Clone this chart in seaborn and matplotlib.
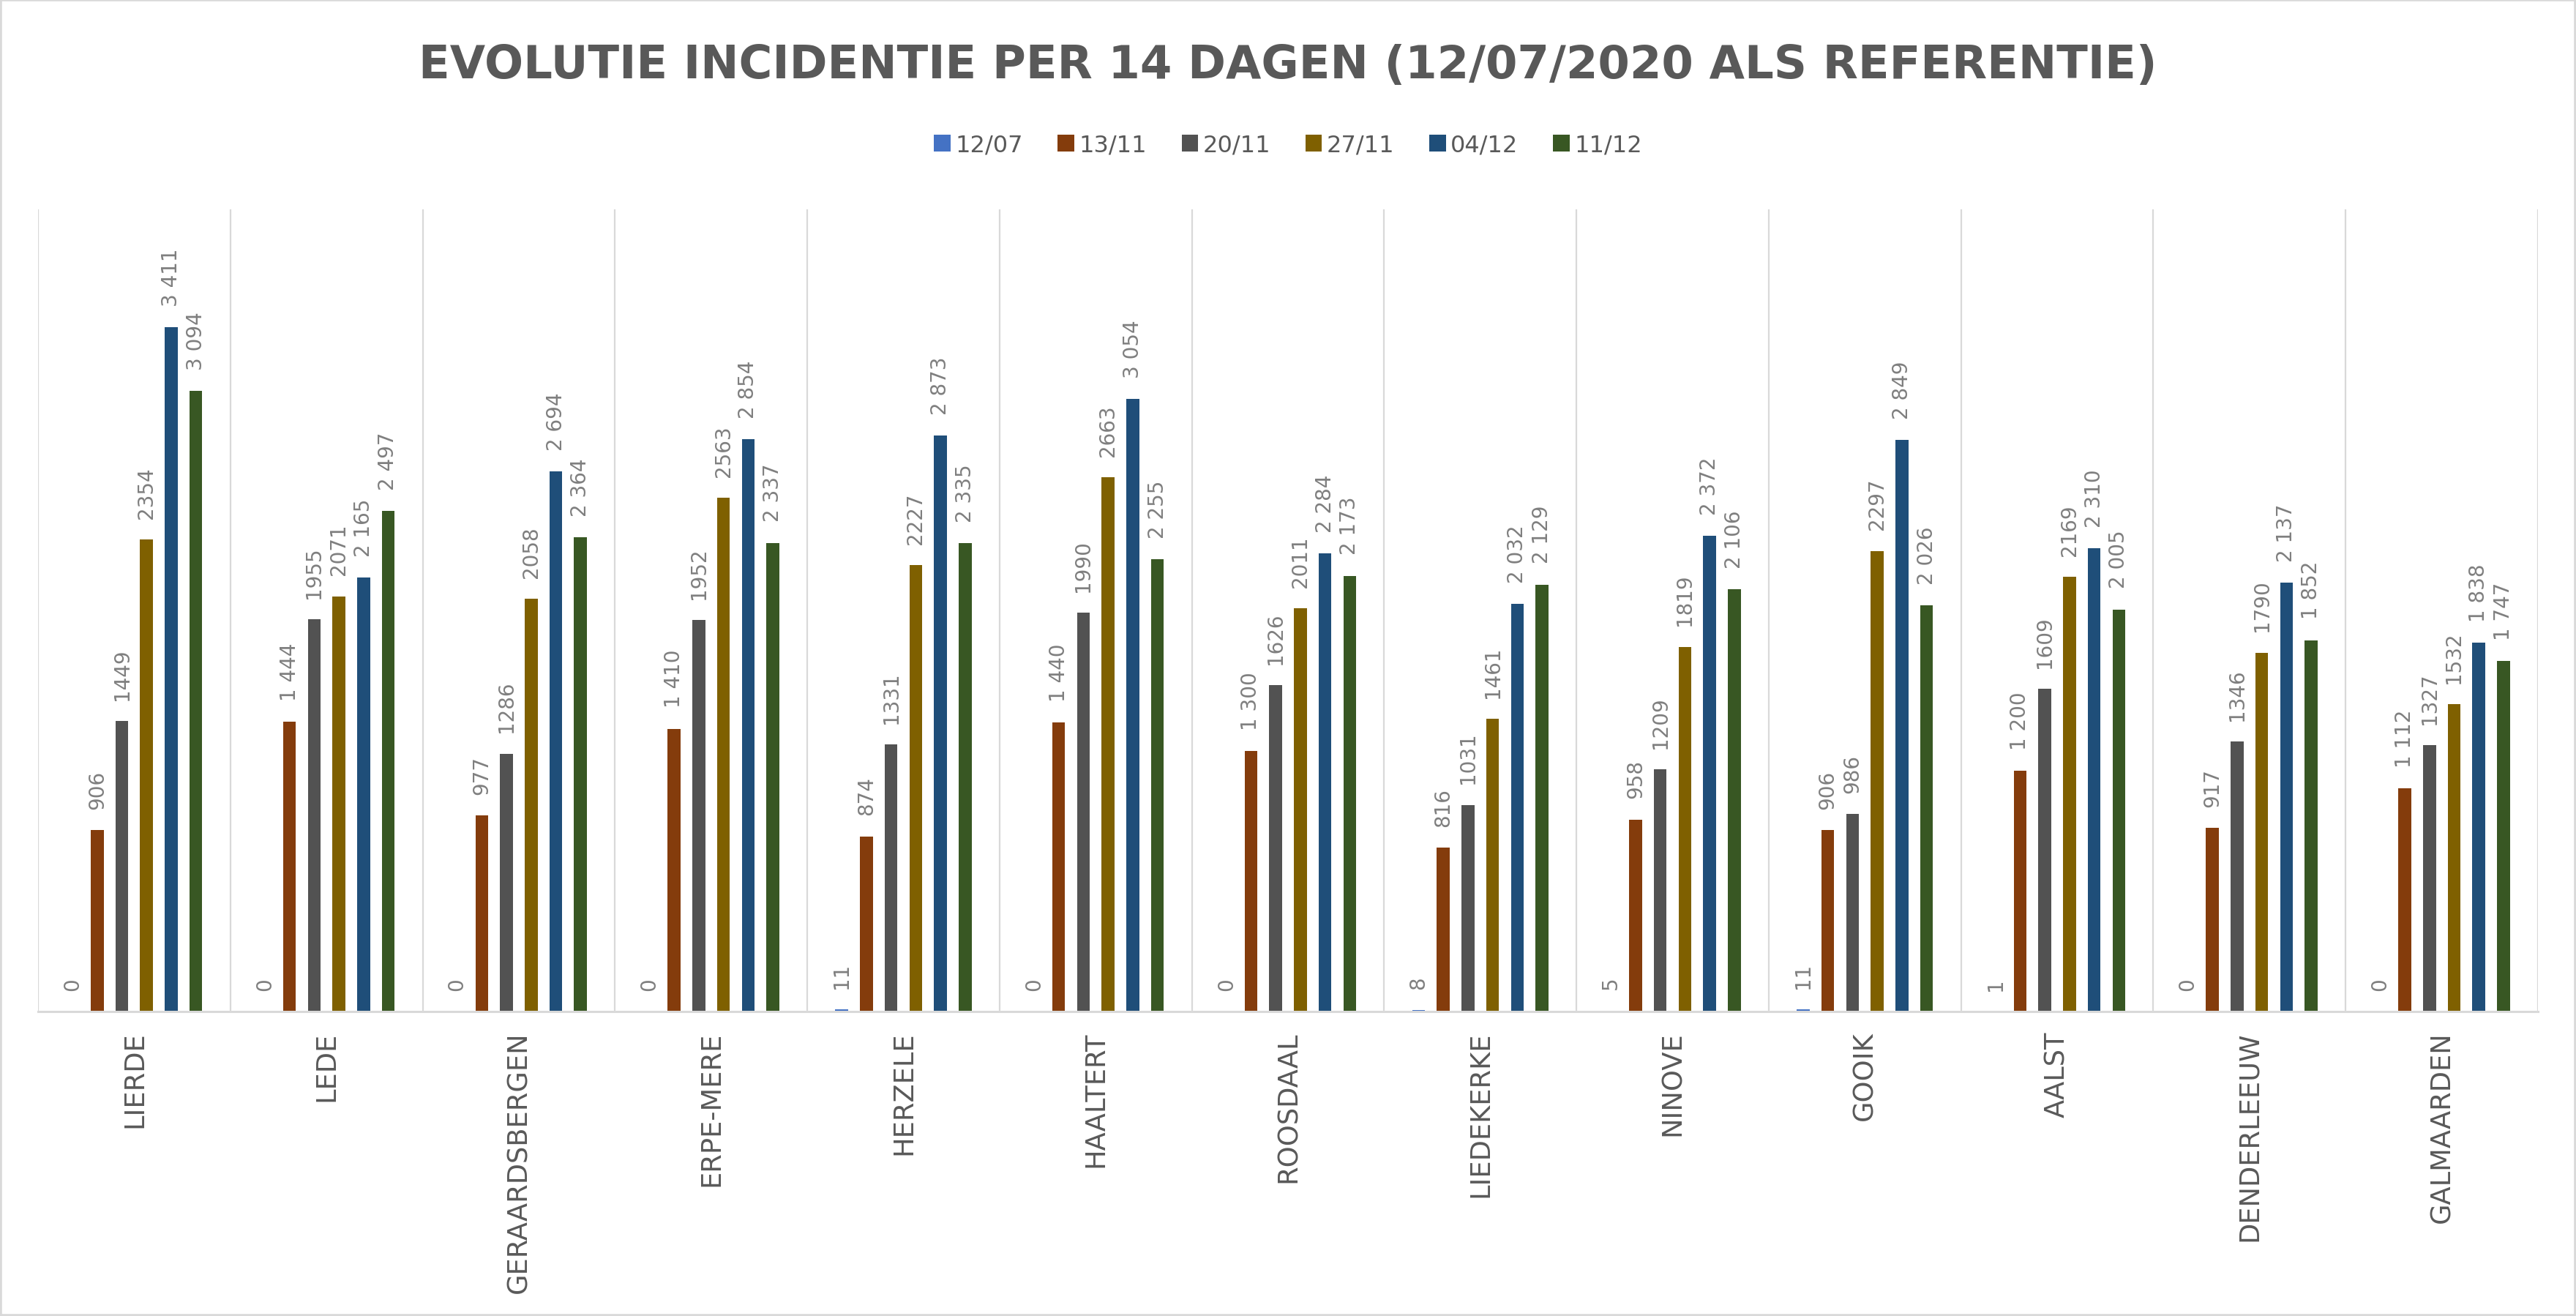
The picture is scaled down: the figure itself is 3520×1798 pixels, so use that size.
import matplotlib
matplotlib.use("Agg")
import matplotlib.pyplot as plt
import seaborn as sns
import pandas as pd
import numpy as np
from matplotlib.patches import Rectangle

# ---------------- data ----------------
gemeenten = ["LIERDE", "LEDE", "GERAARDSBERGEN", "ERPE-MERE", "HERZELE", "HAALTERT",
             "ROOSDAAL", "LIEDEKERKE", "NINOVE", "GOOIK", "AALST", "DENDERLEEUW", "GALMAARDEN"]
reeksen = ["12/07", "13/11", "20/11", "27/11", "04/12", "11/12"]
v_1207 = [0, 0, 0, 0, 11, 0, 0, 8, 5, 11, 1, 0, 0]
v_1311 = [906, 1444, 977, 1410, 874, 1440, 1300, 816, 958, 906, 1200, 917, 1112]
v_2011 = [1449, 1955, 1286, 1952, 1331, 1990, 1626, 1031, 1209, 986, 1609, 1346, 1327]
v_2711 = [2354, 2071, 2058, 2563, 2227, 2663, 2011, 1461, 1819, 2297, 2169, 1790, 1532]
v_0412 = [3411, 2165, 2694, 2854, 2873, 3054, 2284, 2032, 2372, 2849, 2310, 2137, 1838]
v_1112 = [3094, 2497, 2364, 2337, 2335, 2255, 2173, 2129, 2106, 2026, 2005, 1852, 1747]
kleuren = ["#4472C4", "#843C0C", "#525252", "#7F6000", "#1F4E79", "#385723"]
# whether the data labels of a series use a thousands separator
scheiding = [True, True, False, False, True, True]
titel = "EVOLUTIE INCIDENTIE PER 14 DAGEN (12/07/2020 ALS REFERENTIE)"

waarden = [v_1207, v_1311, v_2011, v_2711, v_0412, v_1112]
rows = []
for r, vals in zip(reeksen, waarden):
    for g, v in zip(gemeenten, vals):
        rows.append({"gemeente": g, "datum": r, "waarde": v})
df = pd.DataFrame(rows)

# ---------------- figure ----------------
sns.set_style("white")
plt.rcParams["font.family"] = ["DejaVu Sans"]

W, H = 3520, 1799
fig = plt.figure(figsize=(W / 100, H / 100), dpi=100)
ax = fig.add_axes([52 / W, 1 - 1383 / H, (3468 - 52) / W, (1383 - 287) / H])

sns.barplot(data=df, x="gemeente", y="waarde", hue="datum", order=gemeenten,
            hue_order=reeksen, palette=kleuren, saturation=1, width=0.77, gap=0.48,
            errorbar=None, ax=ax, linewidth=0)

ax.set_ylim(0, 4000)
ax.set_xlim(-0.5, len(gemeenten) - 0.5)
ax.vlines(np.arange(-0.5, len(gemeenten)), 0, 4000, color="#D9D9D9", lw=1.6, zorder=0)

for cont, vals, sep in zip(ax.containers, waarden, scheiding):
    labs = [(f"{v:,}".replace(",", " ") if sep else f"{v}") for v in vals]
    ax.bar_label(cont, labels=labs, rotation=90, padding=21, fontsize=20, color="#7F7F7F")

for s in ["left", "right", "top"]:
    ax.spines[s].set_visible(False)
ax.spines["bottom"].set_color("#D9D9D9")
ax.spines["bottom"].set_linewidth(2.2)
ax.set_yticks([])
ax.set_xlabel("")
ax.set_ylabel("")
ax.tick_params(axis="x", length=0, pad=19, labelsize=26.5, labelcolor="#595959")
for t in ax.get_xticklabels():
    t.set_rotation(90)

# legend
handles, labels = ax.get_legend_handles_labels()
ax.get_legend().remove()
fig.legend(handles, labels, loc="center", bbox_to_anchor=(0.5, 1 - 199 / H), ncol=6,
           frameon=False, fontsize=23, labelcolor="#595959", handlelength=0.7,
           handleheight=0.7, handletextpad=0.2, columnspacing=1.5)

# title
fig.text(0.5, 1 - 107 / H, titel, ha="center", va="baseline", fontsize=45,
         fontweight="bold", color="#595959")

# outer border
fig.patches.append(Rectangle((0, 0), 1, 1, transform=fig.transFigure, fill=False,
                             edgecolor="#D9D9D9", lw=4))

fig.savefig("out.png", dpi=100)
